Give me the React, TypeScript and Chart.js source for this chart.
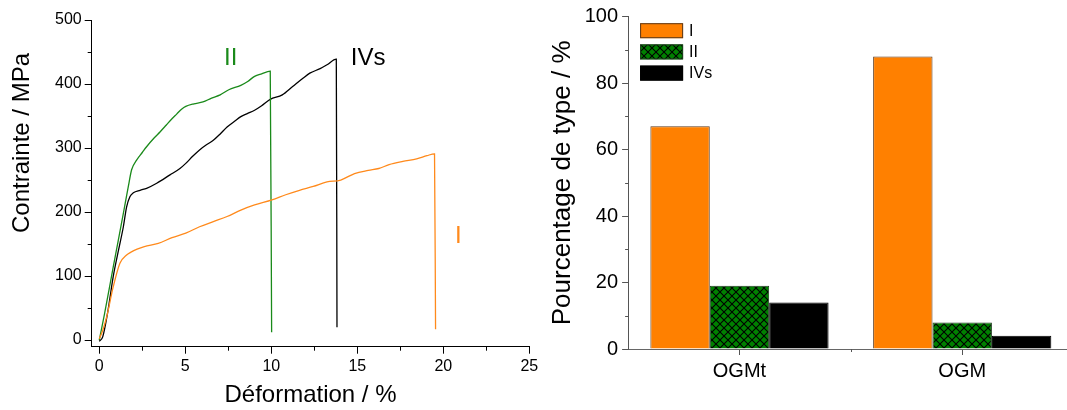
import React, { useEffect, useRef } from 'react';
import { Chart, registerables } from 'chart.js';

Chart.register(...registerables);

const FONT = "'Liberation Sans', Arial, Helvetica, sans-serif";

// ---------- Left chart: stress / strain curves ----------
const strainI = [0, 0.2, 0.43, 0.81, 1.2, 1.59, 1.82, 2.2, 2.62, 3.43, 4.23, 5.03, 5.83, 6.63, 7.43, 8.23, 9.03, 10.04, 10.84, 11.64, 12.44, 13.24, 14.04, 14.84, 15.64, 16.25, 16.85, 17.65, 18.45, 19.05, 19.49, 19.55];
const stressI = [2, 15, 36, 83, 120, 133, 137, 142, 146, 151, 160, 167, 177, 185, 193, 203, 211, 219, 227, 234, 240, 247, 250, 260, 265, 268, 274, 279, 283, 288, 291, 17];

const strainII = [0, 0.3, 0.81, 1.1, 1.4, 1.69, 1.88, 2.17, 2.5, 2.75, 3.2, 3.53, 3.9, 4.2, 4.5, 4.8, 5.03, 5.5, 6.03, 6.53, 7.03, 7.53, 8.23, 8.63, 9.03, 9.44, 9.94, 10.02];
const stressII = [0, 40, 114, 155, 198, 240, 266, 281, 293, 302, 316, 325, 336, 345, 353, 361, 365, 369, 372, 378, 383, 391, 398, 404, 412, 416, 420, 12];

const strainIVs = [0, 0.2, 0.5, 0.81, 1.1, 1.4, 1.59, 1.78, 1.98, 2.37, 2.75, 3.34, 4.11, 4.69, 5.03, 5.43, 5.83, 6.23, 6.63, 7.03, 7.43, 7.83, 8.23, 8.63, 9.03, 9.44, 9.94, 10.64, 11.24, 11.84, 12.24, 12.84, 13.24, 13.78, 13.82];
const stressIVs = [-2, 5, 45, 99, 138, 177, 208, 224, 230, 234, 237, 245, 258, 268, 276, 287, 297, 305, 312, 322, 333, 341, 349, 354, 359, 366, 376, 383, 396, 409, 417, 424, 430, 439, 20];

const curveNames = ['I', 'II', 'IVs'];
const curveTagX = [20.68, 7.25, 14.62];
const curveTagY = [151, 430, 430];

const strainTicks = [0, 5, 10, 15, 20, 25];
const strainMinorTicks = [2.5, 7.5, 12.5, 17.5, 22.5];
const stressTicks = [0, 100, 200, 300, 400, 500];
const stressMinorTicks = [50, 150, 250, 350, 450];

// ---------- Right chart: percentage of type ----------
const categories = ['OGMt', 'OGM'];
const typeNames = ['I', 'II', 'IVs'];
const pctI = [67, 88];
const pctII = [19, 8];
const pctIVs = [14, 4];
const pctTicks = [0, 20, 40, 60, 80, 100];
const pctMinorTicks = [10, 30, 50, 70, 90];
const catMinorTicks = [0.5];

const ORANGE = '#ff8000';
const GREEN = '#008000';

function makeHatch(): CanvasPattern | string {
  const c = document.createElement('canvas');
  c.width = 8;
  c.height = 8;
  const g = c.getContext('2d');
  if (!g) return GREEN;
  g.fillStyle = GREEN;
  g.fillRect(0, 0, 8, 8);
  g.strokeStyle = '#000';
  g.lineWidth = 1.1;
  g.beginPath();
  g.moveTo(-1, -1); g.lineTo(9, 9);
  g.moveTo(9, -1); g.lineTo(-1, 9);
  g.stroke();
  const p = g.createPattern(c, 'repeat');
  return p || GREEN;
}

const minorTicksPlugin = {
  id: 'minorTicks',
  afterDraw(chart: any, _args: any, opts: any) {
    const ctx = chart.ctx;
    const xs = chart.scales.x;
    const ys = chart.scales.y;
    ctx.save();
    ctx.strokeStyle = opts.color || '#000';
    ctx.lineWidth = 1;
    ctx.beginPath();
    for (const v of opts.x || []) {
      const px = Math.round(xs.getPixelForValue(v)) + 0.5;
      ctx.moveTo(px, xs.top);
      ctx.lineTo(px, xs.top + opts.len);
    }
    for (const v of opts.y || []) {
      const py = Math.round(ys.getPixelForValue(v)) + 0.5;
      ctx.moveTo(ys.right, py);
      ctx.lineTo(ys.right - opts.len, py);
    }
    ctx.stroke();
    ctx.restore();
  },
};

const leftTextPlugin = {
  id: 'leftText',
  afterDraw(chart: any) {
    const ctx = chart.ctx;
    const xs = chart.scales.x;
    const ys = chart.scales.y;
    ctx.save();
    // y-axis title
    ctx.translate(22, 143);
    ctx.rotate(-Math.PI / 2);
    ctx.font = `24px ${FONT}`;
    ctx.fillStyle = '#000';
    ctx.textAlign = 'center';
    ctx.textBaseline = 'middle';
    ctx.fillText('Contrainte / MPa', 0, 0);
    ctx.restore();
    // curve tags
    ctx.save();
    ctx.font = `24px ${FONT}`;
    ctx.textAlign = 'left';
    ctx.textBaseline = 'alphabetic';
    const ds = chart.data.datasets;
    for (let i = 0; i < curveNames.length; i++) {
      ctx.fillStyle = ds[i].borderColor;
      ctx.fillText(curveNames[i], xs.getPixelForValue(curveTagX[i]), ys.getPixelForValue(curveTagY[i]));
    }
    ctx.restore();
  },
};

const boxLegendPlugin = {
  id: 'boxLegend',
  afterDraw(chart: any) {
    const ctx = chart.ctx;
    const area = chart.chartArea;
    const x0 = area.left + 12;
    let y0 = area.top + 6.5;
    ctx.save();
    ctx.font = `16px ${FONT}`;
    ctx.textAlign = 'left';
    ctx.textBaseline = 'middle';
    chart.data.datasets.forEach((d: any) => {
      ctx.fillStyle = d.backgroundColor;
      ctx.fillRect(x0, y0, 43, 15);
      ctx.strokeStyle = d.borderColor;
      ctx.lineWidth = 1;
      ctx.strokeRect(x0 + 0.5, y0 + 0.5, 42, 14);
      ctx.fillStyle = '#000';
      ctx.fillText(d.label, x0 + 49, y0 + 8);
      y0 += 21.2;
    });
    ctx.restore();
  },
};

function pts(xs: number[], ys: number[]) {
  return xs.map((x, i) => ({ x, y: ys[i] }));
}

export default function App() {
  const leftRef = useRef<HTMLCanvasElement>(null);
  const rightRef = useRef<HTMLCanvasElement>(null);

  useEffect(() => {
    Chart.defaults.font.family = FONT;
    Chart.defaults.color = '#000';

    const lineDs = (label: string, xs: number[], ys: number[], color: string) => ({
      label,
      data: pts(xs, ys),
      borderColor: color,
      backgroundColor: color,
      borderWidth: 1.3,
      pointRadius: 0,
      cubicInterpolationMode: 'monotone' as const,
      fill: false,
    });

    const left = new Chart(leftRef.current as HTMLCanvasElement, {
      type: 'line',
      data: {
        datasets: [
          lineDs(curveNames[0], strainI, stressI, '#ff8a1c'),
          lineDs(curveNames[1], strainII, stressII, '#1a8a1a'),
          lineDs(curveNames[2], strainIVs, stressIVs, '#000000'),
        ],
      },
      options: {
        animation: false,
        responsive: false,
        devicePixelRatio: 1,
        layout: { padding: { left: 0, right: 15.7, top: 20, bottom: 0 } },
        plugins: {
          legend: { display: false },
          tooltip: { enabled: false },
          minorTicks: { x: strainMinorTicks, y: stressMinorTicks, len: 4, color: '#000' },
        } as any,
        scales: {
          x: {
            type: 'linear',
            min: -0.44,
            max: 25,
            afterBuildTicks: (s: any) => { s.ticks = strainTicks.map((v) => ({ value: v })); },
            afterFit: (s: any) => { s.height = 63.3; },
            grid: { drawOnChartArea: false, drawTicks: true, tickLength: 7, color: '#000' },
            border: { display: true, color: '#000', width: 1 },
            ticks: { font: { size: 16 }, color: '#000', padding: 3, maxRotation: 0 },
            title: { display: true, text: 'Déformation / %', font: { size: 24 }, color: '#000', padding: { top: 0, bottom: 0 } },
          },
          y: {
            type: 'linear',
            min: -10.4,
            max: 500,
            afterBuildTicks: (s: any) => { s.ticks = stressTicks.map((v) => ({ value: v })); },
            afterFit: (s: any) => { s.width = 91.7; },
            grid: { drawOnChartArea: false, drawTicks: true, tickLength: 7, color: '#000' },
            border: { display: true, color: '#000', width: 1 },
            ticks: { font: { size: 16 }, color: '#000', padding: 3 },
          },
        },
      },
      plugins: [minorTicksPlugin, leftTextPlugin],
    });

    const hatch = makeHatch();
    const right = new Chart(rightRef.current as HTMLCanvasElement, {
      type: 'bar',
      data: {
        labels: categories,
        datasets: [
          { label: typeNames[0], data: pctI, backgroundColor: ORANGE, borderColor: '#5c3a1c', borderWidth: 1 },
          { label: typeNames[1], data: pctII, backgroundColor: hatch as any, borderColor: '#1e3d1e', borderWidth: 1 },
          { label: typeNames[2], data: pctIVs, backgroundColor: '#000000', borderColor: '#000000', borderWidth: 1 },
        ],
      },
      options: {
        animation: false,
        responsive: false,
        devicePixelRatio: 1,
        layout: { padding: { left: 0, right: 6.4, top: 16.7, bottom: 0 } },
        datasets: { bar: { categoryPercentage: 0.8, barPercentage: 1.0 } },
        plugins: {
          legend: { display: false },
          tooltip: { enabled: false },
          minorTicks: { x: catMinorTicks, y: pctMinorTicks, len: 3, color: '#555' },
        } as any,
        scales: {
          x: {
            type: 'category',
            offset: true,
            afterFit: (s: any) => { s.height = 61; },
            grid: { offset: false, drawOnChartArea: false, drawTicks: true, tickLength: 6, color: '#555' },
            border: { display: true, color: '#666', width: 1 },
            ticks: { font: { size: 20 }, color: '#000', padding: 4, maxRotation: 0 },
          },
          y: {
            type: 'linear',
            min: 0,
            max: 100,
            afterBuildTicks: (s: any) => { s.ticks = pctTicks.map((v) => ({ value: v })); },
            afterFit: (s: any) => { s.width = 88.1; },
            grid: { drawOnChartArea: false, drawTicks: true, tickLength: 6, color: '#555' },
            border: { display: true, color: '#555', width: 1 },
            ticks: { font: { size: 20 }, color: '#000', padding: 4 },
            title: { display: true, text: 'Pourcentage de type / %', font: { size: 26 }, color: '#000', padding: { top: 7, bottom: 0 } },
          },
        },
      },
      plugins: [minorTicksPlugin, boxLegendPlugin],
    });

    return () => {
      left.destroy();
      right.destroy();
    };
  }, []);

  return (
    <div style={{ position: 'fixed', left: 0, top: 0, width: 1067, height: 410, overflow: 'hidden', background: '#fff' }}>
      <canvas ref={leftRef} width={545} height={410} style={{ position: 'absolute', left: 0, top: 0, width: 545, height: 410 }} />
      <canvas ref={rightRef} width={540} height={410} style={{ position: 'absolute', left: 540, top: 0, width: 540, height: 410 }} />
    </div>
  );
}
